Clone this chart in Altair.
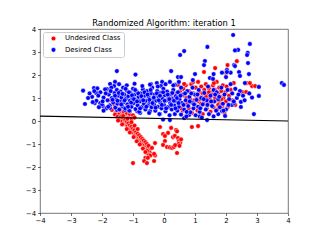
import altair as alt
import pandas as pd

# Desired Class (blue) points
desired_pts = [
    (2.23,3.74),(2.77,3.35),(2.39,3.09),(2.29,3.07),(0.65,3.04),(0.52,2.87),(1.40,3.22),(2.70,2.96),(2.68,2.87),(2.71,2.52),
    (-1.52,2.17),(-0.92,2.02),(0.23,2.17),(-2.61,1.32),(-2.55,0.74),(3.80,1.65),(3.87,1.57),(2.90,0.30),(3.06,1.48),(3.06,1.09),
    (2.84,1.02),(1.32,2.61),(1.29,2.43),(1.60,2.04),(1.87,2.10),(2.03,2.22),(2.15,2.10),(1.00,2.04),(0.93,1.78),(0.45,1.91),
    (0.55,1.91),(2.26,2.43),(2.29,2.39),(2.74,2.04),(2.42,2.13),(2.45,1.96),(2.61,1.65),(2.03,2.13),(2.00,1.91),(1.48,1.87),
    (1.58,1.83),(-0.06,1.70),(-0.23,1.65),(-0.10,1.52),(0.35,1.57),(0.48,1.70),(-0.42,1.61),(0.19,1.70),(-1.58,1.70),(-1.61,1.52),
    (-1.74,1.61),(-2.26,1.43),(-2.19,1.22),(-1.84,1.39),(2.48,0.83),(2.48,0.61),(2.19,0.70),(2.26,0.78),(1.97,0.22),(1.87,0.43),
    (-2.23,0.78),(-2.06,0.78),(-1.97,0.65),(-1.74,0.57),(-1.52,0.48),(-1.26,0.48),(-1.10,0.43),(-0.87,0.43),(-0.77,0.35),
    (-0.45,0.43),(-0.13,0.30),(0.19,0.04),(-0.03,0.06),(0.65,0.13),(0.81,0.26),(1.39,0.04),(1.15,0.20),(1.60,0.20),(1.75,0.30),
    (-2.32,1.05),(-2.18,0.88),(-2.05,1.25),(-2.00,0.72),(-1.95,1.02),(-1.90,1.38),(-1.86,0.55),(-1.82,0.90),(-1.78,1.15),(-1.75,0.68),
    (-1.70,1.45),(-1.68,1.00),(-1.64,0.80),(-1.60,1.22),(-1.57,0.58),(-1.55,0.95),(-1.52,1.35),(-1.50,0.75),(-1.47,1.10),(-1.44,0.50),
    (-1.42,0.88),(-1.40,1.28),(-1.37,1.02),(-1.35,0.65),(-1.32,1.45),(-1.30,0.82),(-1.28,1.15),(-1.25,0.55),(-1.22,0.98),(-1.20,1.32),
    (-1.18,0.72),(-1.15,1.08),(-1.12,0.45),(-1.10,0.88),(-1.08,1.22),(-1.05,0.62),(-1.02,1.00),(-1.00,1.40),(-0.98,0.78),(-0.95,1.15),
    (-0.92,0.52),(-0.90,0.92),(-0.88,1.28),(-0.85,0.68),(-0.82,1.05),(-0.80,0.40),(-0.78,0.85),(-0.75,1.20),(-0.72,0.60),(-0.70,0.98),
    (-0.68,1.38),(-0.65,0.75),(-0.62,1.10),(-0.60,0.50),(-0.58,0.88),(-0.55,1.30),(-0.52,0.68),(-0.50,1.05),(-0.48,0.35),(-0.45,0.82),
    (-0.42,1.20),(-0.40,0.60),(-0.38,1.45),(-0.35,0.95),(-0.32,0.72),(-0.30,1.15),(-0.28,0.45),(-0.25,0.88),(-0.22,1.30),(-0.20,0.62),
    (-0.18,1.05),(-0.15,0.30),(-0.12,0.80),(-0.10,1.22),(-0.08,0.55),(-0.05,0.98),(-0.02,1.40),(0.00,0.70),(0.03,1.12),(0.05,0.42),
    (0.08,0.90),(0.10,1.28),(0.13,0.60),(0.15,1.02),(0.18,0.25),(0.20,0.78),(0.22,1.18),(0.25,0.50),(0.28,0.95),(0.30,1.35),
    (0.33,0.68),(0.35,0.30),(0.38,1.08),(0.40,0.85),(0.43,0.45),(0.45,1.25),(0.48,0.62),(0.50,0.95),(0.55,0.28),(0.58,0.78),
    (0.60,1.15),(0.65,0.50),(0.70,0.90),(0.72,0.20),(0.75,1.30),(0.78,0.65),(0.82,1.05),(0.85,0.38),(0.90,0.80),(0.92,1.45),
    (0.95,0.55),(1.00,1.15),(1.02,0.25),(1.05,0.92),(1.10,0.62),(1.12,1.35),(1.15,0.40),(1.20,1.00),(1.22,0.15),(1.25,0.72),
    (1.30,1.22),(1.35,0.50),(1.38,0.90),(1.42,1.50),(1.45,0.30),(1.50,1.10),(1.55,0.65),(1.60,1.35),(1.62,0.85),(1.68,0.45),
    (1.70,1.25),(1.75,0.95),(1.80,0.60),(1.85,1.45),(1.90,0.75),(1.95,1.15),(2.00,0.50),(2.05,1.35),(2.10,0.95),(2.15,1.60),
    (2.20,1.20),(2.30,1.40),(2.35,1.00),(2.45,1.30),(2.55,1.10),
    (-1.45,1.60),(-1.20,1.55),(-0.95,1.62),(-0.70,1.52),(-0.45,1.58),(-0.20,1.50),(0.05,1.60),(0.30,1.55),(0.55,1.45),(-2.40,1.20),
    (-2.15,1.42),(-2.30,0.82),(-2.10,0.60),(-1.95,0.45),(-2.45,1.00),
    (-2.25,1.30),(-2.12,1.10),(-1.98,0.85),(-1.88,1.20),(-1.80,0.62),(-1.72,1.30),(-1.66,0.92),(-1.58,1.10),(-1.50,0.88),(-1.46,1.22),
    (-1.38,0.72),(-1.34,1.18),(-1.27,0.90),(-1.24,1.40),(-1.16,0.62),(-1.13,1.25),(-1.06,0.80),(-1.03,1.12),(-0.97,0.95),(-0.93,1.35),
    (-0.87,0.85),(-0.83,1.20),(-0.77,0.55),(-0.73,1.08),(-0.67,0.90),(-0.63,1.25),(-0.57,0.62),(-0.53,1.15),(-0.47,0.92),(-0.43,1.35),
    (-0.37,0.78),(-0.33,1.02),(-0.27,0.58),(-0.23,1.20),(-0.17,0.90),(-0.13,1.10),(-0.07,0.70),(-0.03,1.25),(0.02,0.88),(0.07,0.55),
    (0.12,1.15),(0.17,0.95),(0.23,0.70),(0.27,1.22),(0.32,0.88),(0.37,0.55),(0.42,1.00),(0.47,0.78),(0.53,1.10),(0.63,0.70),
    (0.68,1.20),(0.73,0.40),(0.83,0.85),(0.88,1.20),(0.97,0.72),(1.08,1.15),(1.17,0.55),(1.28,0.95),(1.40,0.70),(1.52,0.85),
    (1.65,1.15),(1.78,1.05),(1.92,0.45),(2.08,0.70),(2.25,0.85),(2.40,1.15),(2.60,0.90),(2.75,1.20),
]

# Undesired Class (red) points
undesired_pts = [
    (0.45,1.57),(0.50,0.85),(0.52,1.30),(0.60,0.45),(0.65,1.10),(0.70,1.55),(0.75,0.75),(0.80,1.30),(0.85,0.95),(0.88,1.60),
    (0.90,0.35),(0.95,1.20),(1.00,0.70),(1.02,1.45),(1.05,1.00),(1.08,0.45),(1.10,1.70),(1.12,0.85),(1.15,1.25),(1.18,0.60),
    (1.20,1.50),(1.22,1.05),(1.25,0.30),(1.28,0.80),(1.30,1.35),(1.32,0.95),(1.35,1.60),(1.38,0.55),(1.40,1.15),(1.42,0.75),
    (1.45,1.42),(1.48,1.00),(1.50,0.40),(1.52,1.25),(1.55,0.85),(1.58,1.55),(1.60,0.60),(1.62,1.10),(1.65,1.35),(1.68,0.90),
    (1.70,1.70),(1.72,0.50),(1.75,1.20),(1.78,1.45),(1.80,0.80),(1.82,1.05),(1.85,1.30),(1.88,0.65),(1.90,1.55),(1.92,1.00),
    (1.95,0.35),(1.98,1.25),(2.00,0.85),(2.02,1.50),(2.05,0.60),(2.10,1.10),(2.15,1.35),(2.20,0.90),(2.25,1.65),(2.30,0.70),
    (0.55,0.55),(0.62,1.40),(0.72,1.00),(0.80,0.55),(0.98,0.90),(1.15,0.95),(1.25,1.20),(1.35,1.05),(1.45,1.25),(1.55,1.15),
    (1.65,1.00),(1.75,0.70),(1.85,0.95),(1.00,1.15),(1.20,0.75),(0.23,1.09),(1.87,0.74),(0.30,0.95),(0.40,1.20),
    (0.94,1.70),(0.65,1.61),(1.61,1.65),(1.29,2.13),(1.65,2.30),(2.05,2.43),(2.35,2.60),(2.00,2.09),(2.84,1.52),(2.94,1.52),
    (2.52,1.26),(2.65,1.26),(2.67,1.65),(2.77,1.65),
    (-1.74,0.91),(-1.68,0.48),(-1.60,0.70),(-1.55,0.35),(-1.50,0.55),(-1.45,0.30),(-1.40,0.45),(-1.35,0.25),(-1.30,0.40),
    (-1.25,0.20),(-1.20,0.35),(-1.15,0.15),(-1.10,0.30),(-1.05,0.10),(-1.00,0.25),(-1.35,0.60),(-1.22,0.50),(-0.95,0.15),
    (-1.58,0.28),(-1.50,0.18),(-1.42,0.08),(-1.38,0.20),(-1.35,0.00),(-1.30,0.12),(-1.28,-0.08),(-1.25,0.05),(-1.22,-0.15),
    (-1.20,-0.02),(-1.18,-0.22),(-1.15,-0.10),(-1.12,-0.30),(-1.10,-0.18),(-1.08,-0.38),(-1.05,-0.25),(-1.02,-0.45),(-1.00,-0.32),
    (-0.98,-0.52),(-0.95,-0.40),(-0.92,-0.60),(-0.90,-0.48),(-0.88,-0.68),(-0.85,-0.55),(-0.82,-0.75),(-0.80,-0.62),(-0.78,-0.82),
    (-0.75,-0.70),(-0.72,-0.90),(-0.70,-0.78),(-0.68,-0.98),(-0.65,-0.85),(-0.62,-1.05),(-0.60,-0.92),(-0.58,-1.12),(-0.55,-1.00),
    (-0.53,-1.20),(-0.50,-1.08),(-0.48,-1.28),(-0.46,-1.38),(-0.50,-1.45),(-0.44,-1.50),(-0.55,-1.30),(-0.60,-1.60),(-0.64,-1.74),
    (-0.55,-1.83),(-0.32,-1.74),(-0.29,-1.50),(-0.29,-0.96),(-1.00,-1.83),(-1.32,0.22),(-1.18,0.10),(-1.05,-0.05),
    (-0.95,-0.20),(-0.85,-0.35),(-1.48,0.02),(-1.35,-0.15),(-1.20,-0.35),(-1.10,-0.50),(-0.98,-0.70),(-0.88,-0.88),(-0.78,-1.02),
    (-0.68,-1.20),(-0.60,-1.35),(-0.52,-1.60),(-0.39,-1.17),(-0.32,-1.43),
    (-0.13,-0.26),(0.23,-0.30),(0.13,-0.52),(-0.03,-0.57),(0.03,-0.65),(0.29,-0.70),(0.35,-0.65),(0.39,-0.39),(0.42,-0.45),
    (0.45,-0.74),(0.48,-0.87),(0.52,-0.96),(0.47,-1.00),(0.03,-0.87),(-0.03,-1.04),(0.10,-1.13),(0.19,-1.15),(0.26,-1.17),
    (0.32,-1.13),(0.36,-1.05),(0.42,-1.39),(0.55,-0.80),(0.50,-1.08),(0.90,-0.26),(1.10,-0.22),
]

# Decision line end points
line_x = [-4.0, 4.0]
line_y = [0.21, 0.0]

axis_ticks = [-4, -3, -2, -1, 0, 1, 2, 3, 4]
classes = ["Undesired Class", "Desired Class"]
colors = ["#ff0000", "#0000ff"]

# red drawn first, blue on top
rows = [{"x": x, "y": y, "cls": "Undesired Class"} for x, y in undesired_pts]
rows += [{"x": x, "y": y, "cls": "Desired Class"} for x, y in desired_pts]
pts_df = pd.DataFrame(rows)
line_df = pd.DataFrame({"x": line_x, "y": line_y})

FONT = "DejaVu Sans"
xscale = alt.Scale(domain=[-4, 4], nice=False, zero=False)
yscale = alt.Scale(domain=[-4, 4], nice=False, zero=False)

def make_axis():
    return alt.Axis(values=axis_ticks, title=None, grid=False, domain=False, tickSize=2.4,
                    tickWidth=0.6, tickColor="black", labelFontSize=6.94, labelFont=FONT,
                    labelColor="black", labelPadding=2, format="d", labelOverlap=False,
                    labelFlush=False)

points = alt.Chart(pts_df).mark_point(
    shape="circle", filled=True, size=22, opacity=1, stroke="white", strokeWidth=0.5
).encode(
    x=alt.X("x:Q", scale=xscale, axis=make_axis()),
    y=alt.Y("y:Q", scale=yscale, axis=make_axis()),
    color=alt.Color("cls:N", scale=alt.Scale(domain=classes, range=colors),
                    legend=alt.Legend(orient="top-left", offset=3, padding=3, title=None,
                                      fillColor="rgba(255,255,255,0.8)", strokeColor="#cccccc",
                                      cornerRadius=2, labelFont=FONT, labelFontSize=6.94,
                                      labelColor="black", symbolType="circle", symbolSize=22,
                                      symbolStrokeColor="white", symbolStrokeWidth=0.5,
                                      symbolOffset=4, labelOffset=8, rowPadding=3.4)),
)

line = alt.Chart(line_df).mark_line(color="black", strokeWidth=1.1, clip=True).encode(
    x=alt.X("x:Q", scale=xscale, axis=make_axis()),
    y=alt.Y("y:Q", scale=yscale, axis=make_axis()),
)

chart = alt.layer(points, line).properties(
    width=248, height=184,
    title=alt.TitleParams("Randomized Algorithm: iteration 1", font=FONT, fontSize=8.33,
                          fontWeight="normal", color="black", offset=0, anchor="middle",
                          frame="group", dy=2),
    autosize=alt.AutoSizeParams(type="none"),
    padding={"left": 32, "top": 21, "right": 24, "bottom": 19},
).configure_view(stroke="#555555", strokeWidth=0.8)

chart.save("out.html", embed_options={"renderer": "svg", "actions": False})
